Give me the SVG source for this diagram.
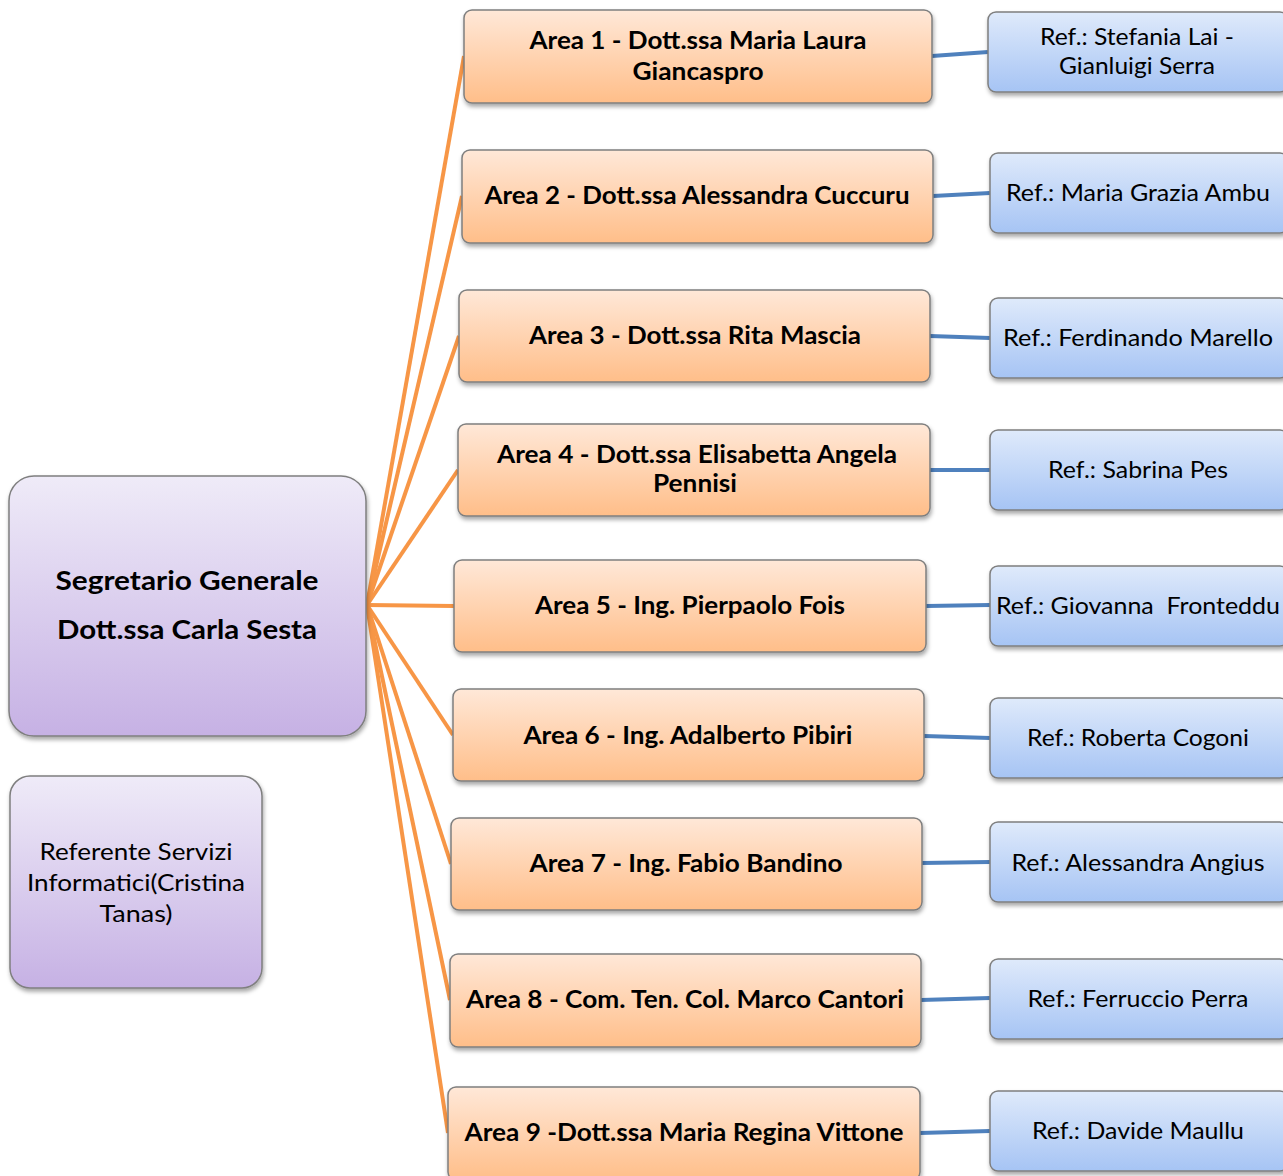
<svg xmlns="http://www.w3.org/2000/svg" width="1283" height="1176" viewBox="0 0 1283 1176">
<style>
.o{fill:url(#go);stroke:#7f7f7f;stroke-width:1.5;filter:url(#sh)}
.b{fill:url(#gb);stroke:#7f7f7f;stroke-width:1.5;filter:url(#sh)}
.p{fill:url(#gp);stroke:#7f7f7f;stroke-width:1.5;filter:url(#sh)}
.to{font-family:Lato,"Open Sans","Liberation Sans",sans-serif;font-weight:bold;font-size:24px;fill:#000;text-anchor:middle}
.tb{font-family:Lato,"Open Sans","Liberation Sans",sans-serif;font-size:24px;fill:#000;text-anchor:middle}
.tr{font-family:Lato,"Open Sans","Liberation Sans",sans-serif;font-weight:bold;font-size:27px;fill:#000;text-anchor:middle}
.co{stroke:#F79646;stroke-width:4;fill:none}
.cb{stroke:#4F81BD;stroke-width:4;fill:none}
</style>
<defs>
<linearGradient id="go" x1="0" y1="0" x2="0" y2="1"><stop offset="0" stop-color="#FFE8D8"/><stop offset="1" stop-color="#FFBE89"/></linearGradient>
<linearGradient id="gb" x1="0" y1="0" x2="0" y2="1"><stop offset="0" stop-color="#DFEAFB"/><stop offset="1" stop-color="#A6C4F4"/></linearGradient>
<linearGradient id="gp" x1="0" y1="0" x2="0" y2="1"><stop offset="0" stop-color="#EFEBF8"/><stop offset="1" stop-color="#C6B1E4"/></linearGradient>
<filter id="sh" x="-5%" y="-5%" width="110%" height="115%"><feDropShadow dx="1" dy="3" stdDeviation="2" flood-color="#000" flood-opacity="0.35"/></filter>
</defs>
<rect width="1283" height="1176" fill="#fff"/>
<g id="connectors">
<line class="co" x1="367" y1="605" x2="464" y2="56"/>
<line class="co" x1="367" y1="605" x2="462" y2="196"/>
<line class="co" x1="367" y1="605" x2="459" y2="336"/>
<line class="co" x1="367" y1="605" x2="458" y2="470"/>
<line class="co" x1="367" y1="605" x2="454" y2="606"/>
<line class="co" x1="367" y1="605" x2="453" y2="735"/>
<line class="co" x1="367" y1="605" x2="451" y2="864"/>
<line class="co" x1="367" y1="605" x2="450" y2="1000"/>
<line class="co" x1="367" y1="605" x2="448" y2="1133"/>
<line class="cb" x1="932" y1="56" x2="988" y2="52"/>
<line class="cb" x1="933" y1="196" x2="990" y2="193"/>
<line class="cb" x1="930" y1="336" x2="990" y2="338"/>
<line class="cb" x1="930" y1="470" x2="990" y2="470"/>
<line class="cb" x1="926" y1="606" x2="990" y2="605"/>
<line class="cb" x1="924" y1="736" x2="990" y2="738"/>
<line class="cb" x1="922" y1="863" x2="990" y2="862"/>
<line class="cb" x1="921" y1="1000" x2="990" y2="998"/>
<line class="cb" x1="920" y1="1133" x2="990" y2="1131"/>
</g>
<g id="root">
<rect class="p" x="9" y="476" width="357" height="260" rx="25"/>
<text class="tr" x="187" y="590" textLength="263" lengthAdjust="spacingAndGlyphs">Segretario Generale</text>
<text class="tr" x="187" y="639" textLength="260" lengthAdjust="spacingAndGlyphs">Dott.ssa Carla Sesta</text>
</g>
<g id="referente">
<rect class="p" x="10" y="776" width="252" height="212" rx="20"/>
<text class="tb" x="136" y="860" textLength="193" lengthAdjust="spacingAndGlyphs">Referente Servizi</text>
<text class="tb" x="136" y="891" textLength="218" lengthAdjust="spacingAndGlyphs">Informatici(Cristina</text>
<text class="tb" x="136" y="922" textLength="73" lengthAdjust="spacingAndGlyphs">Tanas)</text>
</g>
<g id="area1">
<rect class="o" x="464" y="10" width="468" height="93" rx="8"/>
<text class="to" x="698" y="49" textLength="337" lengthAdjust="spacingAndGlyphs">Area 1 - Dott.ssa Maria Laura</text>
<text class="to" x="698" y="80" textLength="131" lengthAdjust="spacingAndGlyphs">Giancaspro</text>
</g>
<g id="area2">
<rect class="o" x="462" y="150" width="471" height="93" rx="8"/>
<text class="to" x="697" y="204" textLength="425" lengthAdjust="spacingAndGlyphs">Area 2 - Dott.ssa Alessandra Cuccuru</text>
</g>
<g id="area3">
<rect class="o" x="459" y="290" width="471" height="92" rx="8"/>
<text class="to" x="695" y="344" textLength="332" lengthAdjust="spacingAndGlyphs">Area 3 - Dott.ssa Rita Mascia</text>
</g>
<g id="area4">
<rect class="o" x="458" y="424" width="472" height="92" rx="8"/>
<text class="to" x="697" y="463" textLength="400" lengthAdjust="spacingAndGlyphs">Area 4 - Dott.ssa Elisabetta Angela</text>
<text class="to" x="695" y="492" textLength="84" lengthAdjust="spacingAndGlyphs">Pennisi</text>
</g>
<g id="area5">
<rect class="o" x="454" y="560" width="472" height="92" rx="8"/>
<text class="to" x="690" y="614" textLength="310" lengthAdjust="spacingAndGlyphs">Area 5 - Ing. Pierpaolo Fois</text>
</g>
<g id="area6">
<rect class="o" x="453" y="689" width="471" height="92" rx="8"/>
<text class="to" x="688" y="744" textLength="329" lengthAdjust="spacingAndGlyphs">Area 6 - Ing. Adalberto Pibiri</text>
</g>
<g id="area7">
<rect class="o" x="451" y="818" width="471" height="92" rx="8"/>
<text class="to" x="686" y="872" textLength="313" lengthAdjust="spacingAndGlyphs">Area 7 - Ing. Fabio Bandino</text>
</g>
<g id="area8">
<rect class="o" x="450" y="954" width="471" height="93" rx="8"/>
<text class="to" x="685" y="1008" textLength="438" lengthAdjust="spacingAndGlyphs">Area 8 - Com. Ten. Col. Marco Cantori</text>
</g>
<g id="area9">
<rect class="o" x="448" y="1087" width="472" height="93" rx="8"/>
<text class="to" x="684" y="1141" textLength="439" lengthAdjust="spacingAndGlyphs">Area 9 -Dott.ssa Maria Regina Vittone</text>
</g>
<g id="ref1">
<rect class="b" x="988" y="12" width="300" height="80" rx="8"/>
<text class="tb" x="1137" y="45" textLength="194" lengthAdjust="spacingAndGlyphs">Ref.: Stefania Lai -</text>
<text class="tb" x="1137" y="74" textLength="156" lengthAdjust="spacingAndGlyphs">Gianluigi Serra</text>
</g>
<g id="ref2">
<rect class="b" x="990" y="153" width="298" height="80" rx="8"/>
<text class="tb" x="1138" y="201" textLength="264" lengthAdjust="spacingAndGlyphs">Ref.: Maria Grazia Ambu</text>
</g>
<g id="ref3">
<rect class="b" x="990" y="298" width="298" height="80" rx="8"/>
<text class="tb" x="1138" y="346" textLength="270" lengthAdjust="spacingAndGlyphs">Ref.: Ferdinando Marello</text>
</g>
<g id="ref4">
<rect class="b" x="990" y="430" width="298" height="80" rx="8"/>
<text class="tb" x="1138" y="478" textLength="180" lengthAdjust="spacingAndGlyphs">Ref.: Sabrina Pes</text>
</g>
<g id="ref5">
<rect class="b" x="990" y="566" width="298" height="80" rx="8"/>
<text class="tb" x="1138" y="614" textLength="284" lengthAdjust="spacingAndGlyphs" xml:space="preserve">Ref.: Giovanna  Fronteddu</text>
</g>
<g id="ref6">
<rect class="b" x="990" y="698" width="298" height="80" rx="8"/>
<text class="tb" x="1138" y="746" textLength="222" lengthAdjust="spacingAndGlyphs">Ref.: Roberta Cogoni</text>
</g>
<g id="ref7">
<rect class="b" x="990" y="822" width="298" height="80" rx="8"/>
<text class="tb" x="1138" y="871" textLength="253" lengthAdjust="spacingAndGlyphs">Ref.: Alessandra Angius</text>
</g>
<g id="ref8">
<rect class="b" x="990" y="959" width="298" height="80" rx="8"/>
<text class="tb" x="1138" y="1007" textLength="221" lengthAdjust="spacingAndGlyphs">Ref.: Ferruccio Perra</text>
</g>
<g id="ref9">
<rect class="b" x="990" y="1091" width="298" height="80" rx="8"/>
<text class="tb" x="1138" y="1139" textLength="212" lengthAdjust="spacingAndGlyphs">Ref.: Davide Maullu</text>
</g>
</svg>
